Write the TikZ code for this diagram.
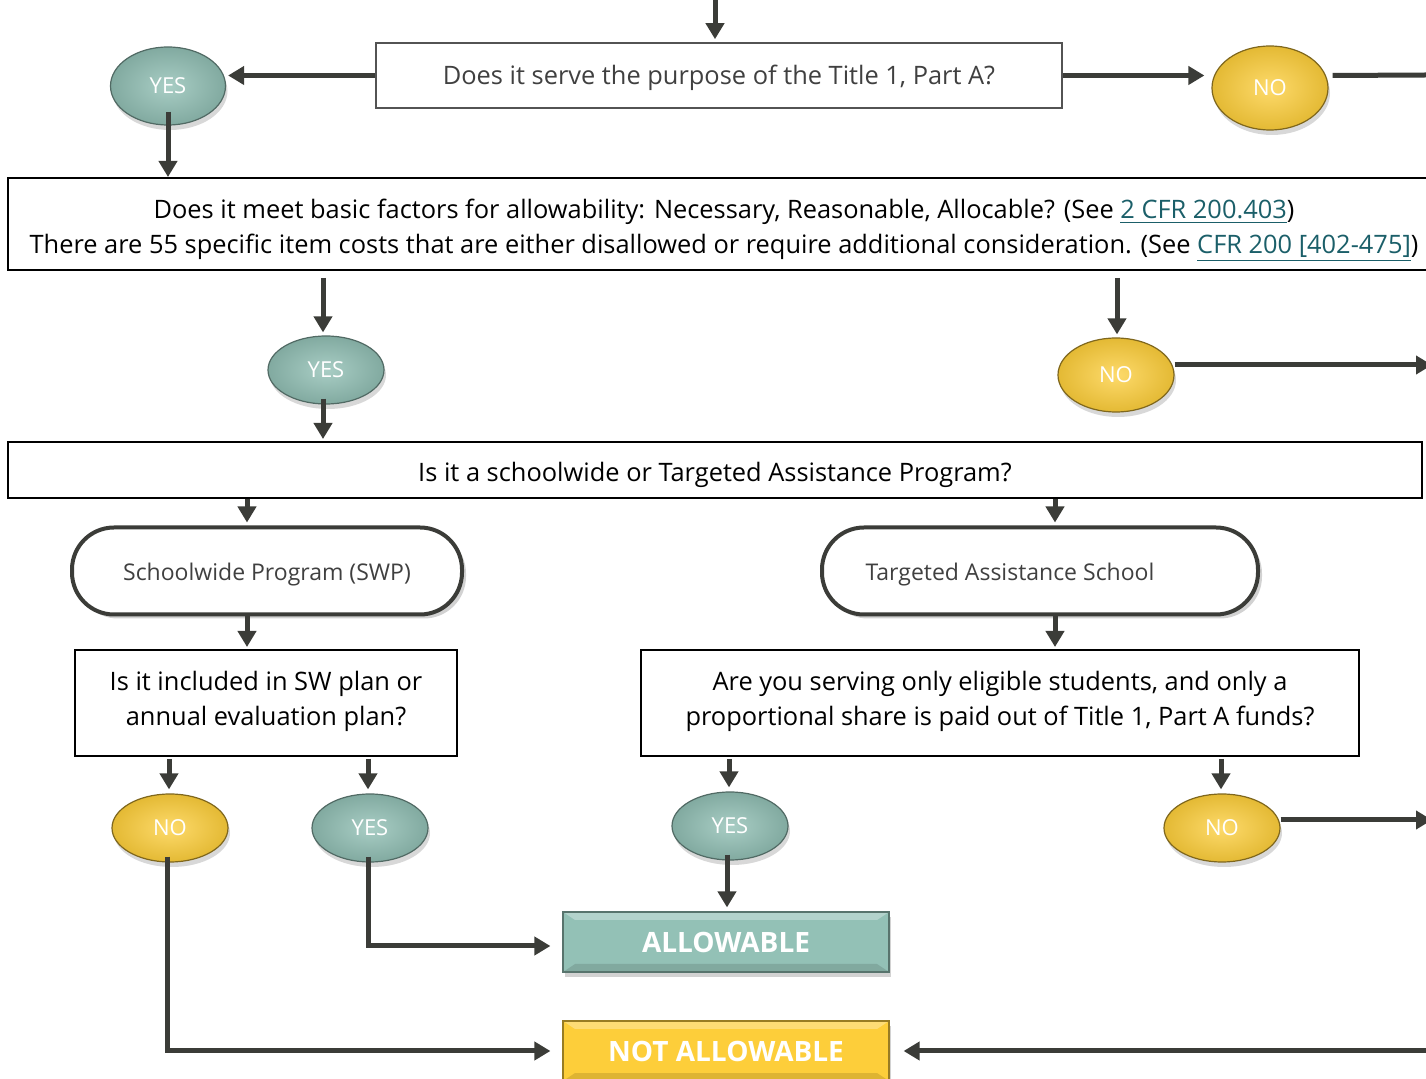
\documentclass[tikz,border=0pt]{standalone}
\usepackage{fontspec}
\setmainfont{Open Sans}
\usepackage{xcolor}
\usepackage{tikz}
\usetikzlibrary{shapes.geometric}
\usetikzlibrary{arrows.meta}
\usetikzlibrary{shadows}
\definecolor{arrowgray}{HTML}{3B3C38}
\definecolor{yesteal}{HTML}{93C1B6}
\definecolor{noyellow}{HTML}{FDCE3A}
\definecolor{textgray}{HTML}{404040}
\definecolor{linkteal}{HTML}{1B5F69}
\newcommand{\reflink}[1]{{\color{linkteal}\underline{#1}}}
\tikzset{
question/.style={
  draw=black,
  line width=1pt,
  align=center,
  inner sep=0pt,
  font=\fontsize{12.7}{17.5}\selectfont
},
yesoval/.style={
  ellipse,
  draw=yesteal!55!black,
  line width=.6pt,
  shading=radial,
  inner color=yesteal!80!white,
  outer color=yesteal!88!black,
  text=white,
  inner sep=0pt,
  minimum width=58pt,
  minimum height=34pt,
  font=\fontsize{11}{13}\selectfont,
  drop shadow={opacity=.3,shadow xshift=1pt,shadow yshift=-2.5pt}
},
nooval/.style={
  yesoval,
  draw=noyellow!50!black,
  inner color=noyellow!75!white,
  outer color=noyellow!90!black
},
program/.style={
  draw=arrowgray,
  fill=white,
  line width=2pt,
  rounded corners=21pt,
  text=textgray,
  minimum height=43.5pt,
  text height=13pt,
  text depth=3pt,
  font=\fontsize{11.5}{14}\selectfont,
  drop shadow={opacity=.35,shadow xshift=2pt,shadow yshift=-2pt}
},
result/.style={
  draw=#1!60!black,
  fill=#1,
  line width=.6pt,
  minimum width=163pt,
  minimum height=30pt,
  text=white,
  font=\fontsize{14}{16}\selectfont\bfseries,
  drop shadow={opacity=.35,shadow xshift=1pt,shadow yshift=-2.5pt},
  path picture={
    \fill[white,opacity=.3] (path picture bounding box.north west) -- (path picture bounding box.north east)
      -- ([xshift=-6pt,yshift=-4pt]path picture bounding box.north east) -- ([xshift=6pt,yshift=-4pt]path picture bounding box.north west) -- cycle;
    \fill[black,opacity=.12] (path picture bounding box.south west) -- (path picture bounding box.south east)
      -- ([xshift=-6pt,yshift=4pt]path picture bounding box.south east) -- ([xshift=6pt,yshift=4pt]path picture bounding box.south west) -- cycle;
  }
},
flow/.style={
  draw=arrowgray,
  line width=2.5pt,
  -{Triangle[width=9pt,length=8pt]}
},
plainflow/.style={
  draw=arrowgray,
  line width=2.5pt
}
}

\begin{document}
\begin{tikzpicture}[x=0.5pt,y=-0.5pt]
\clip (0,0) rectangle (1426,1079);
\fill[white] (0,0) rectangle (1426,1079);

% the questions
\node (q1) [question, draw=textgray!90, line width=.8pt, text=textgray, minimum width=343pt, minimum height=32.5pt] at (719,75.5)
  {\rule{0pt}{12pt}Does it serve the purpose of the Title 1, Part A?};
\node (q2) [question, minimum width=716pt, minimum height=46pt] at (724,224)
  {\rule{0pt}{16.5pt}Does it meet basic factors for allowability: Necessary, Reasonable, Allocable? (See \reflink{2 CFR 200.403})\\
   There are 55 specific item costs that are either disallowed or require additional consideration. (See \reflink{CFR 200 [402-475]})};
\node (q3) [question, minimum width=707pt, minimum height=28pt] at (715,470)
  {\rule{0pt}{15pt}Is it a schoolwide or Targeted Assistance Program?};
\node (q4) [question, minimum width=191pt, minimum height=53pt] at (266,703)
  {Is it included in SW plan or\\annual evaluation plan?\rule[-4.5pt]{0pt}{0pt}};
\node (q5) [question, minimum width=359pt, minimum height=53pt] at (1000,703)
  {Are you serving only eligible students, and only a\\proportional share is paid out of Title 1, Part A funds?\rule[-4.5pt]{0pt}{0pt}};

% the programs
\node (swp) [program, minimum width=195pt] at (267,571) {Schoolwide Program (SWP)};
\node (tas) [program, minimum width=218pt] at (1040,571) {Targeted Assistance School\hspace*{30pt}};

% the answers
\node (yes1) [yesoval, minimum width=57.5pt, minimum height=39pt] at (168,86) {YES};
\node (no1) [nooval, minimum height=42pt] at (1270,88) {NO};
\node (yes2) [yesoval] at (326,370) {YES};
\node (no2) [nooval, minimum height=37pt] at (1116,375) {NO};
\node (no3) [nooval] at (170,828) {NO};
\node (yes3) [yesoval] at (370,828) {YES};
\node (yes4) [yesoval] at (730,826) {YES};
\node (no4) [nooval] at (1222,828) {NO};

% the results
\node (allow) [result=yesteal] at (726,942) {ALLOWABLE};
\node (notallow) [result=noyellow] at (726,1051) {NOT ALLOWABLE};

% the loose ends
\coordinate (in1) at (715,0);
\coordinate (out1) at (1426,75);
\coordinate (out2) at (1432,365);
\coordinate (out3) at (1432,820);
\coordinate (out4) at (1432,1051);

% the arrows
\draw[flow] (in1) -- ([yshift=1.5pt]in1 |- q1.north);
\draw[flow] (q1.west) -- ([xshift=1pt]q1.west -| yes1.east);
\draw[flow] (q1.east) -- ([xshift=-3.5pt]q1.east -| no1.west);
\draw[plainflow] ([xshift=2pt]q1.east -| no1.east) -- (out1);
\draw[flow] ([yshift=7pt]yes1.south) -- (yes1 |- q2.north);
\foreach \ans/\dx in {yes2/-1.5pt,no2/0.5pt}
{
  \draw[flow, shorten <=3.5pt, shorten >=1.5pt]
    ([xshift=\dx]\ans.north |- q2.south) -- ([xshift=\dx]\ans.north);
}
\draw[flow, shorten >=1pt] ([xshift=-1.5pt,yshift=3pt]yes2.south) -- ([xshift=-1.5pt]yes2.south |- q3.north);
\draw[flow] ([yshift=5pt]no2.east) -- ([yshift=5pt]no2.east -| out2);
\foreach \prog/\dx in {swp/-10pt,tas/7.5pt}
{
  \draw[flow, shorten >=1.5pt]
    ([xshift=\dx]\prog.north |- q3.south) -- ([xshift=\dx]\prog.north);
}
\draw[flow, shorten >=1pt] ([xshift=-10pt]swp.south) -- ([xshift=-10pt]swp.south |- q4.north);
\draw[flow, shorten >=1pt] ([xshift=7.5pt]tas.south) -- ([xshift=7.5pt]tas.south |- q5.north);
\foreach \src/\ans/\dx in {q4/no3/-0.5pt,q4/yes3/-1pt,q5/yes4/-0.5pt,q5/no4/-0.5pt}
{
  \draw[flow, shorten <=1pt, shorten >=2pt]
    ([xshift=\dx]\ans.north |- \src.south) -- ([xshift=\dx]\ans.north);
}
\draw[flow] ([yshift=4pt]no4.east) -- ([yshift=4pt]no4.east -| out3);
\draw[flow, shorten >=2pt] ([xshift=-1.5pt,yshift=3pt]yes4.south) -- ([xshift=-1.5pt]yes4.south |- allow.north);
\draw[flow, shorten >=6pt] ([xshift=-1pt,yshift=3pt]yes3.south) |- ([yshift=-2pt]allow.west);
\draw[flow, shorten >=6pt] ([xshift=-1.5pt,yshift=3pt]no3.south) |- (notallow.west);
\draw[flow, shorten >=7pt] (out4) -- (notallow.east);
\end{tikzpicture}
\end{document}
